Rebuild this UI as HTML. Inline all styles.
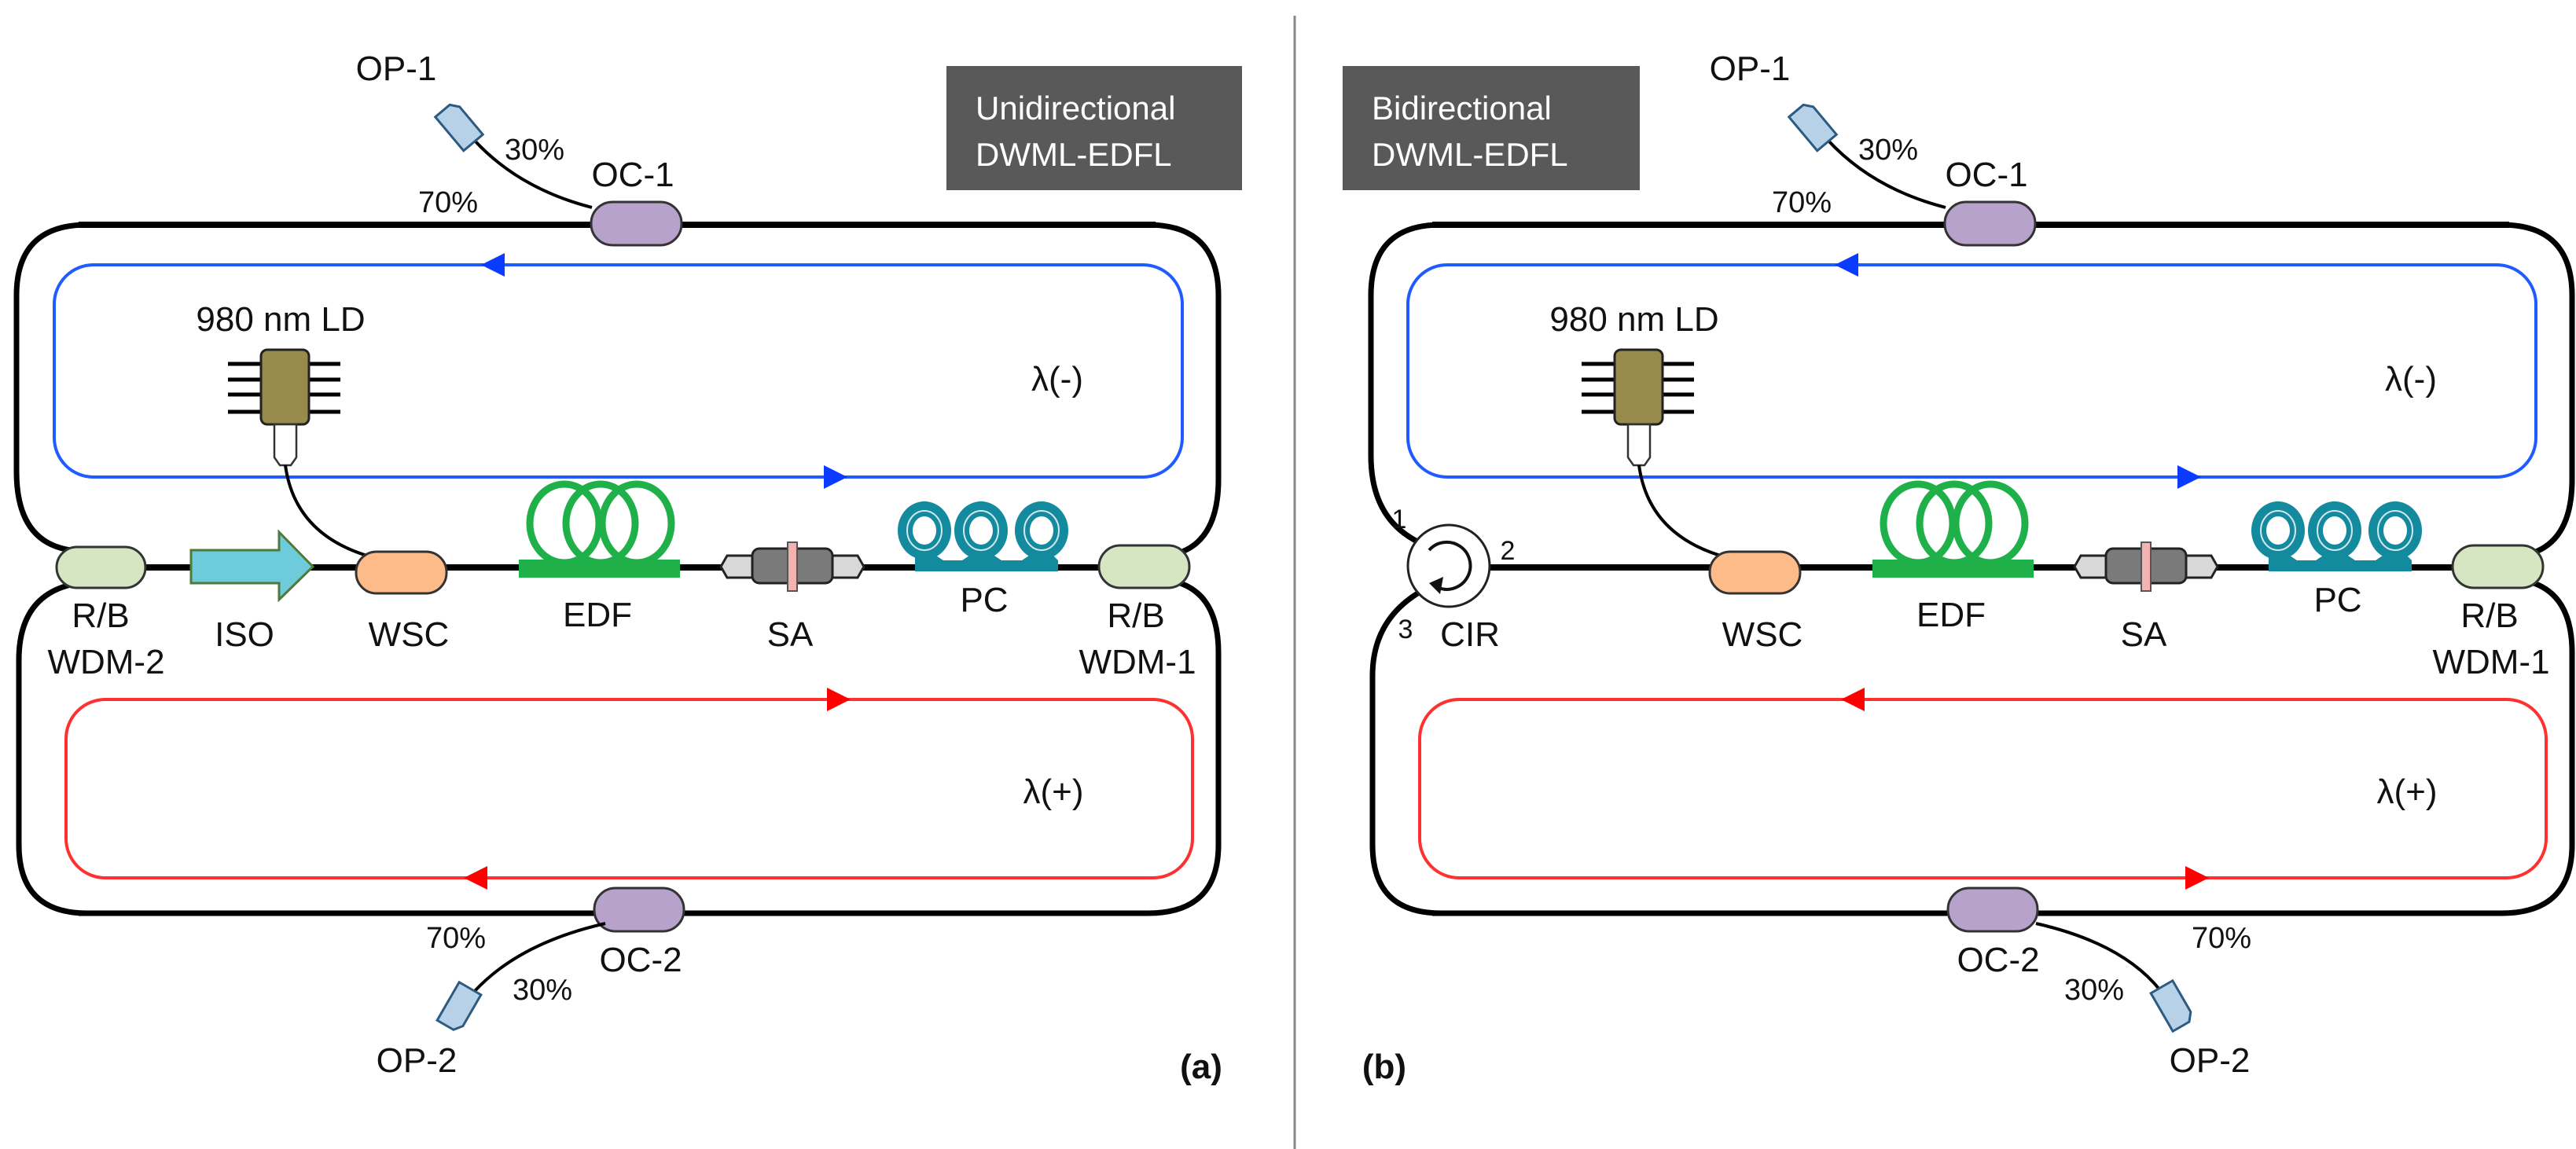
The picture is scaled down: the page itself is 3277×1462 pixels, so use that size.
<!DOCTYPE html>
<html><head><meta charset="utf-8"><style>
html,body{margin:0;padding:0;background:#fff}
svg{display:block}
text{font-family:"Liberation Sans",Arial,sans-serif;font-size:44px;fill:#111}
</style></head><body>
<svg width="3277" height="1462" viewBox="0 0 3277 1462" xmlns="http://www.w3.org/2000/svg">
<defs>
<g id="core">
  <!-- blue loop -->
  <rect x="69" y="337" width="1435" height="270" rx="50" fill="none" stroke="#1f5cff" stroke-width="4"/>
  <polygon points="612,337 642,322 642,352" fill="#0a3cff"/>
  <polygon points="1078,607 1048,592 1048,622" fill="#0a3cff"/>
  <!-- outer top line + OC-1 -->
  <line x1="100" y1="286" x2="1470" y2="286" stroke="#000" stroke-width="8"/>
  <path d="M1460,286 Q1550,286 1550,376 L1550,610 Q1550,690 1495,705" fill="none" stroke="#000" stroke-width="7"/>
  <path d="M1495,740 Q1550,755 1550,830 L1550,1075 Q1550,1162 1460,1162 L100,1162" fill="none" stroke="#000" stroke-width="7"/>
  <path d="M753,264 Q660,240 603,178" fill="none" stroke="#000" stroke-width="4"/>
  <rect x="752" y="257" width="115" height="55" rx="27" fill="#b7a2cc" stroke="#333" stroke-width="3"/>
  <g transform="translate(584,160) rotate(-40)"><path d="M-16,-28 L8,-28 L16,-18 L16,28 L-16,28 Z" fill="#b7d1e8" stroke="#2c5a80" stroke-width="3"/></g>
  <!-- LD -->
  <g stroke="#000" stroke-width="5"><line x1="290" y1="463" x2="433" y2="463"/><line x1="290" y1="483" x2="433" y2="483"/><line x1="290" y1="502" x2="433" y2="502"/><line x1="290" y1="524" x2="433" y2="524"/></g>
  <rect x="332" y="445" width="61" height="95" rx="8" fill="#978a4a" stroke="#222" stroke-width="3"/>
  <path d="M349,540 L377,540 L377,582 L370,592 L356,592 L349,582 Z" fill="#fff" stroke="#333" stroke-width="2.5"/>
  <path d="M363,592 Q375,680 470,708" fill="none" stroke="#000" stroke-width="4"/>
  <!-- main line -->
  <line x1="180" y1="722" x2="1400" y2="722" stroke="#000" stroke-width="8"/>
  <!-- WSC -->
  <rect x="453" y="702" width="115" height="53" rx="26" fill="#fdbb8a" stroke="#333" stroke-width="3"/>
  <!-- EDF -->
  <g fill="none" stroke="#1fb04a" stroke-width="9">
    <ellipse cx="718" cy="666" rx="44" ry="50"/><ellipse cx="764" cy="666" rx="44" ry="50"/><ellipse cx="810" cy="666" rx="44" ry="50"/>
  </g>
  <rect x="660" y="712" width="205" height="23" fill="#1fb04a"/>
  <!-- SA -->
  <polygon points="917,721 925,707 957,707 957,735 925,735" fill="#d8d8d8" stroke="#222" stroke-width="3"/>
  <polygon points="1099,721 1091,707 1059,707 1059,735 1091,735" fill="#d8d8d8" stroke="#222" stroke-width="3"/>
  <rect x="957" y="698" width="102" height="44" rx="9" fill="#7a7a7a" stroke="#222" stroke-width="3"/>
  <rect x="1002" y="690" width="12" height="62" fill="#f4b3b3" stroke="#555" stroke-width="2"/>
  <!-- PC -->
  <g fill="#138a9e">
    <polygon points="1164,713 1164,727 1346,727 1346,713 1338,705 1312,705 1300,713 1274,713 1262,705 1236,705 1224,713 1200,713 1188,705 1164,705"/>
    <ellipse cx="1176" cy="675" rx="34" ry="37"/><ellipse cx="1248" cy="675" rx="34" ry="37"/><ellipse cx="1325" cy="675" rx="34" ry="37"/>
    <rect x="1166" y="700" width="20" height="14"/><rect x="1238" y="700" width="20" height="14"/><rect x="1315" y="700" width="20" height="14"/>
  </g>
  <g fill="none" stroke="#cfe8ee" stroke-width="2"><ellipse cx="1176" cy="675" rx="22" ry="25"/><ellipse cx="1248" cy="675" rx="22" ry="25"/><ellipse cx="1325" cy="675" rx="22" ry="25"/></g>
  <g fill="#fff"><ellipse cx="1176" cy="675" rx="15" ry="18"/><ellipse cx="1248" cy="675" rx="15" ry="18"/><ellipse cx="1325" cy="675" rx="15" ry="18"/></g>
  <!-- WDM-1 -->
  <rect x="1398" y="694" width="115" height="54" rx="27" fill="#d6e6c3" stroke="#333" stroke-width="3"/>
  <!-- OC-2 -->
  <rect x="756" y="1130" width="114" height="55" rx="27" fill="#b7a2cc" stroke="#333" stroke-width="3"/>
</g>
</defs>

<!-- ===== Panel (a) ===== -->
<use href="#core"/>
<path d="M90,700 Q21,690 21,600 L21,376 Q21,286 111,286" fill="none" stroke="#000" stroke-width="7"/>
<path d="M90,744 Q24,760 24,840 L24,1075 Q24,1162 111,1162" fill="none" stroke="#000" stroke-width="7"/>
<rect x="72" y="696" width="113" height="52" rx="26" fill="#d6e6c3" stroke="#333" stroke-width="3"/>
<polygon points="243,700 355,700 355,677 398,721 355,763 355,742 243,742" fill="#6ecbdc" stroke="#4f7a3a" stroke-width="3"/>
<rect x="84" y="890" width="1433" height="227" rx="50" fill="none" stroke="#ff3030" stroke-width="4"/>
<polygon points="1082,890 1052,875 1052,905" fill="#ff0000"/>
<polygon points="590,1117 620,1102 620,1132" fill="#ff0000"/>
<path d="M770,1175 Q660,1200 603,1262" fill="none" stroke="#000" stroke-width="4"/>
<g transform="translate(584,1282) rotate(30)"><path d="M-16,-28 L16,-28 L16,18 L8,28 L-16,28 Z" fill="#b7d1e8" stroke="#2c5a80" stroke-width="3"/></g>
<rect x="1204" y="84" width="376" height="158" fill="#595959"/>
<text x="1241" y="152" style="fill:#fff;font-size:42px">Unidirectional</text>
<text x="1241" y="211" style="fill:#fff;font-size:42px">DWML-EDFL</text>
<text x="504" y="102" text-anchor="middle">OP-1</text>
<text x="680" y="203" text-anchor="middle" style="font-size:38px">30%</text>
<text x="805" y="237" text-anchor="middle">OC-1</text>
<text x="570" y="270" text-anchor="middle" style="font-size:38px">70%</text>
<text x="357" y="421" text-anchor="middle">980 nm LD</text>
<text x="1345" y="497" text-anchor="middle">λ(-)</text>
<text x="128" y="798" text-anchor="middle">R/B</text>
<text x="135" y="857" text-anchor="middle">WDM-2</text>
<text x="311" y="822" text-anchor="middle">ISO</text>
<text x="520" y="822" text-anchor="middle">WSC</text>
<text x="760" y="797" text-anchor="middle">EDF</text>
<text x="1005" y="822" text-anchor="middle">SA</text>
<text x="1252" y="778" text-anchor="middle">PC</text>
<text x="1445" y="798" text-anchor="middle">R/B</text>
<text x="1447" y="857" text-anchor="middle">WDM-1</text>
<text x="1340" y="1022" text-anchor="middle">λ(+)</text>
<text x="580" y="1206" text-anchor="middle" style="font-size:38px">70%</text>
<text x="815" y="1236" text-anchor="middle">OC-2</text>
<text x="690" y="1272" text-anchor="middle" style="font-size:38px">30%</text>
<text x="530" y="1364" text-anchor="middle">OP-2</text>
<text x="1528" y="1372" text-anchor="middle" style="font-weight:bold">(a)</text>

<!-- divider -->
<line x1="1647" y1="20" x2="1647" y2="1462" stroke="#888" stroke-width="3"/>

<!-- ===== Panel (b) ===== -->
<use href="#core" transform="translate(1722,0)"/>
<rect x="1893" y="718" width="20" height="8" fill="#000"/>
<path d="M1805,690 Q1744,660 1744,580 L1744,376 Q1744,286 1833,286" fill="none" stroke="#000" stroke-width="7"/>
<path d="M1805,754 Q1746,790 1746,860 L1746,1075 Q1746,1162 1833,1162" fill="none" stroke="#000" stroke-width="7"/>
<rect x="1880" y="718" width="40" height="8" fill="#000"/>
<circle cx="1843" cy="720" r="52" fill="#fff" stroke="#222" stroke-width="3"/>
<path d="M1818,700 A30,30 0 1,1 1830,748" fill="none" stroke="#111" stroke-width="4"/>
<polygon points="1818,742 1836,734 1832,756" fill="#111"/>
<rect x="1806" y="890" width="1433" height="227" rx="50" fill="none" stroke="#ff3030" stroke-width="4"/>
<polygon points="2342,890 2372,875 2372,905" fill="#ff0000"/>
<polygon points="2810,1117 2780,1102 2780,1132" fill="#ff0000"/>
<path d="M2590,1175 Q2700,1200 2748,1260" fill="none" stroke="#000" stroke-width="4"/>
<g transform="translate(2764,1280) rotate(-30)"><path d="M-16,-28 L16,-28 L16,18 L8,28 L-16,28 Z" fill="#b7d1e8" stroke="#2c5a80" stroke-width="3"/></g>
<rect x="1708" y="84" width="378" height="158" fill="#595959"/>
<text x="1745" y="152" style="fill:#fff;font-size:42px">Bidirectional</text>
<text x="1745" y="211" style="fill:#fff;font-size:42px">DWML-EDFL</text>
<text x="2226" y="102" text-anchor="middle">OP-1</text>
<text x="2402" y="203" text-anchor="middle" style="font-size:38px">30%</text>
<text x="2527" y="237" text-anchor="middle">OC-1</text>
<text x="2292" y="270" text-anchor="middle" style="font-size:38px">70%</text>
<text x="2079" y="421" text-anchor="middle">980 nm LD</text>
<text x="3067" y="497" text-anchor="middle">λ(-)</text>
<text x="1780" y="672" text-anchor="middle" style="font-size:34px">1</text>
<text x="1918" y="712" text-anchor="middle" style="font-size:34px">2</text>
<text x="1788" y="812" text-anchor="middle" style="font-size:34px">3</text>
<text x="1870" y="822" text-anchor="middle">CIR</text>
<text x="2242" y="822" text-anchor="middle">WSC</text>
<text x="2482" y="797" text-anchor="middle">EDF</text>
<text x="2727" y="822" text-anchor="middle">SA</text>
<text x="2974" y="778" text-anchor="middle">PC</text>
<text x="3167" y="798" text-anchor="middle">R/B</text>
<text x="3169" y="857" text-anchor="middle">WDM-1</text>
<text x="3062" y="1022" text-anchor="middle">λ(+)</text>
<text x="2826" y="1206" text-anchor="middle" style="font-size:38px">70%</text>
<text x="2542" y="1236" text-anchor="middle">OC-2</text>
<text x="2664" y="1272" text-anchor="middle" style="font-size:38px">30%</text>
<text x="2811" y="1364" text-anchor="middle">OP-2</text>
<text x="1761" y="1372" text-anchor="middle" style="font-weight:bold">(b)</text>
</svg>
</body></html>
